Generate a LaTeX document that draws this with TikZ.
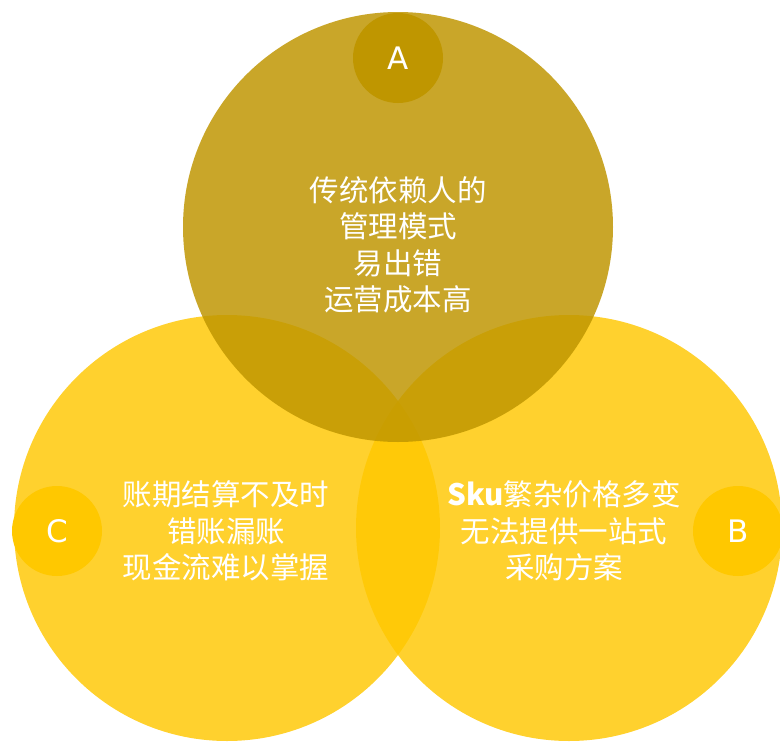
\documentclass[tikz,border=0pt]{standalone}
\usepackage{fontspec}
\newfontfamily\cjk{Noto Sans CJK SC}
\newfontfamily\latinsans{DejaVu Sans}
\definecolor{goldA}{RGB}{191,150,0}
\definecolor{yellowB}{RGB}{255,200,0}
\tikzset{
  bigcircle/.style={circle, minimum size=#1, inner sep=0pt},
  badge/.style={circle, minimum size=90pt, inner sep=0pt, text=white, font=\latinsans\fontsize{31}{33}\selectfont},
  bodytext/.style={text=white, align=center, font=\cjk\fontsize{29.5}{36.5}\selectfont},
}
\begin{document}
\begin{tikzpicture}[x=1pt,y=-1pt]
\useasboundingbox (0,0) rectangle (780,742);
\fill[white] (0,0) rectangle (780,742);
\begin{scope}
\clip (0,0) rectangle (780,742);
\node[bigcircle=426pt, fill=yellowB, fill opacity=0.82] (circC) at (227,528) {};
\node[bigcircle=426pt, fill=yellowB, fill opacity=0.82] (circB) at (569,528) {};
\node[bigcircle=430pt, fill=goldA, fill opacity=0.84] (circA) at (398,227) {};
\end{scope}
\node[badge, fill=goldA] (badgeA) at (398,58) {A};
\node[badge, fill=yellowB] (badgeC) at (57,531) {C};
\node[badge, fill=yellowB] (badgeB) at (738,531) {B};
\node[bodytext] (textA) at (398,245) {传统依赖人的\\管理模式\\易出错\\运营成本高};
\node[bodytext] (textC) at (226,531) {账期结算不及时\\错账漏账\\现金流难以掌握};
\node[bodytext] (textB) at (564,531) {{\bfseries Sku}繁杂价格多变\\无法提供一站式\\采购方案};
\end{tikzpicture}
\end{document}
